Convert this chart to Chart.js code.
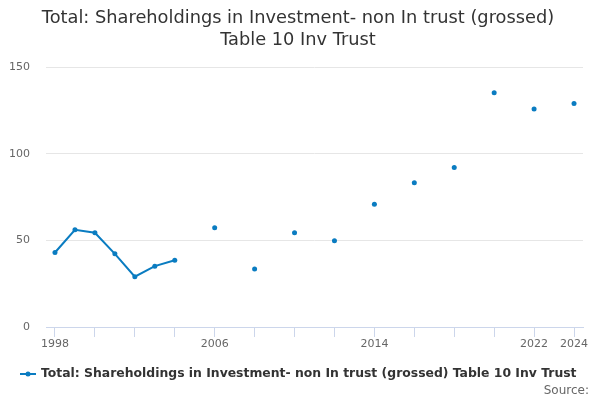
<!DOCTYPE html>
<html>
<head>
<meta charset="utf-8">
<script src="https://cdn.jsdelivr.net/npm/chart.js@4/dist/chart.umd.min.js"></script>
<style>
  html, body { margin: 0; padding: 0; background: #fff; }
  #wrap { width: 600px; height: 400px; position: relative; }
</style>
</head>
<body>
<div id="wrap"><canvas id="chart" width="600" height="400"></canvas></div>
<script>
var titleLines = ['Total: Shareholdings in Investment- non In trust (grossed)', 'Table 10 Inv Trust'];
var seriesName = 'Total: Shareholdings in Investment- non In trust (grossed) Table 10 Inv Trust';
var years = [1998, 1999, 2000, 2001, 2002, 2003, 2004, 2005, 2006, 2007, 2008, 2009, 2010, 2011,
             2012, 2013, 2014, 2015, 2016, 2017, 2018, 2019, 2020, 2021, 2022, 2023, 2024];
var values = [43.0, 56.1, 54.4, 42.2, 29.0, 35.1, 38.5, null, 57.3, null, 33.4, null, 54.4, null,
              49.8, null, 70.8, null, 83.2, null, 92.0, null, 135.2, null, 125.8, null, 128.9];
var xTickYears = [1998, 2000, 2002, 2004, 2006, 2008, 2010, 2012, 2014, 2016, 2018, 2020, 2022, 2024];
var xLabelYears = [1998, 2006, 2014, 2022, 2024];
var yTicks = [0, 50, 100, 150];

var lineColor = '#0a7cc1';
var font = '"DejaVu Sans", sans-serif';

var points = years.map(function(y, i) { return { x: y, y: values[i] }; });

// title, legend and source drawn onto the canvas
var decorations = {
  id: 'decorations',
  afterDraw: function(chart) {
    var ctx = chart.ctx;
    ctx.save();
    ctx.fillStyle = '#333333';
    ctx.font = '17.8px ' + font;
    ctx.textAlign = 'center';
    ctx.textBaseline = 'middle';
    ctx.fillText(titleLines[0], 298, 18);
    ctx.fillText(titleLines[1], 298, 40);

    // legend
    ctx.strokeStyle = lineColor;
    ctx.lineWidth = 2;
    ctx.beginPath();
    ctx.moveTo(20, 374);
    ctx.lineTo(36, 374);
    ctx.stroke();
    ctx.fillStyle = lineColor;
    ctx.beginPath();
    ctx.arc(28, 374, 2.5, 0, Math.PI * 2);
    ctx.fill();
    ctx.fillStyle = '#333333';
    ctx.font = 'bold 12.4px ' + font;
    ctx.textAlign = 'left';
    ctx.fillText(seriesName, 41, 374);

    ctx.fillStyle = '#666666';
    ctx.font = '12px ' + font;
    ctx.textAlign = 'right';
    ctx.fillText('Source:', 589, 391);
    ctx.restore();
  }
};

new Chart(document.getElementById('chart'), {
  type: 'line',
  data: {
    datasets: [{
      label: seriesName,
      data: points,
      borderColor: lineColor,
      backgroundColor: lineColor,
      borderWidth: 2,
      pointRadius: 2.5,
      pointHoverRadius: 3,
      pointBorderWidth: 0,
      spanGaps: false,
      tension: 0
    }]
  },
  options: {
    responsive: false,
    animation: false,
    events: [],
    layout: { padding: { left: 0, right: 17, top: 67, bottom: 43 } },
    plugins: {
      legend: { display: false },
      title: { display: false },
      tooltip: { enabled: false }
    },
    scales: {
      x: {
        type: 'linear',
        min: 1997.55,
        max: 2024.45,
        afterBuildTicks: function(scale) {
          scale.ticks = xTickYears.map(function(v) { return { value: v }; });
        },
        afterFit: function(scale) { scale.height = 30; },
        grid: { drawOnChartArea: false, drawTicks: true, tickLength: 10, color: '#ccd6eb' },
        border: { display: true, color: '#ccd6eb', width: 1 },
        ticks: {
          autoSkip: false,
          maxRotation: 0,
          padding: 1,
          color: '#666666',
          font: { family: font, size: 11 },
          callback: function(v) { return xLabelYears.indexOf(v) >= 0 ? String(v) : ''; }
        }
      },
      y: {
        min: 0,
        max: 150,
        afterBuildTicks: function(scale) {
          scale.ticks = yTicks.map(function(v) { return { value: v }; });
        },
        afterFit: function(scale) { scale.width = 46; },
        grid: { color: '#e6e6e6', drawTicks: false },
        border: { display: false },
        ticks: {
          padding: 16,
          color: '#666666',
          font: { family: font, size: 11 }
        }
      }
    }
  },
  plugins: [decorations]
});
</script>
</body>
</html>
